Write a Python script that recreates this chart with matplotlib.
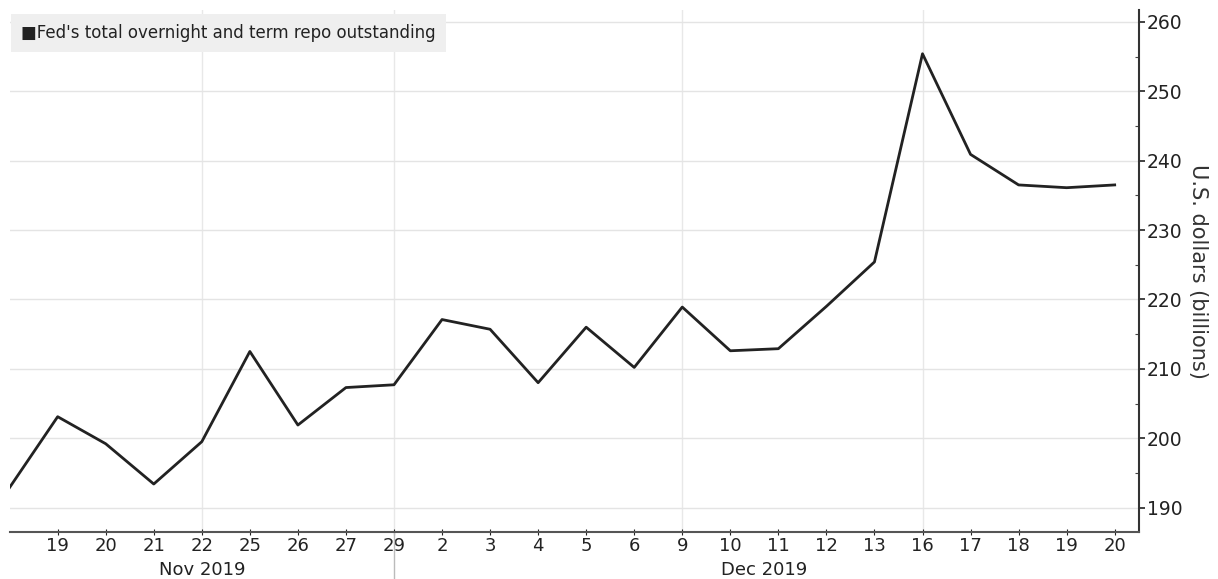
import numpy as np
import matplotlib
matplotlib.use("Agg")
import matplotlib.pyplot as plt
import matplotlib.transforms as mtransforms
from matplotlib.ticker import MultipleLocator

# Fed's total overnight and term repo outstanding, billions USD
days = ["18", "19", "20", "21", "22", "25", "26", "27", "29",
        "2", "3", "4", "5", "6", "9", "10", "11", "12", "13", "16", "17", "18", "19", "20"]
repo = [192.9, 203.1, 199.2, 193.4, 199.5, 212.5, 201.9, 207.3, 207.7,
        217.1, 215.7, 208.0, 216.0, 210.2, 218.9, 212.6, 212.9, 219.0, 225.4,
        255.4, 240.9, 236.5, 236.1, 236.5]
months = ["Nov 2019", "Dec 2019"]
month_pos = [4, 15.7]       # label centre (index)
month_break = 8             # separator index
vgrid = [4, 8, 14, 19]

fig = plt.figure(figsize=(12.18, 5.79), dpi=100)
ax = fig.add_axes([0.0079, 0.081, 0.927, 0.902])

x = np.arange(len(repo))
ax.plot(x, repo, color="#222222", lw=2.0, zorder=3)

ax.set_xlim(0, len(repo) - 0.5)
ax.set_ylim(186.47, 261.73)

ax.yaxis.tick_right()
ax.yaxis.set_label_position("right")
ax.yaxis.set_major_locator(MultipleLocator(10))
ax.yaxis.set_minor_locator(MultipleLocator(5))
ax.tick_params(axis="y", which="major", direction="out", length=4, width=1.2,
               labelsize=13.5, pad=2, colors="#222222")
ax.tick_params(axis="y", which="minor", direction="in", length=3, width=0.8, colors="#444444")
ax.set_ylabel("U.S. dollars (billions)", rotation=270, fontsize=15, color="#333333",
              labelpad=18)

ax.set_xticks(x[1:])
ax.set_xticklabels(days[1:])
ax.tick_params(axis="x", direction="inout", length=5, width=0.8, labelsize=13,
               pad=1, colors="#222222")

for s in ["top", "left"]:
    ax.spines[s].set_visible(False)
ax.spines["bottom"].set_color("#555555")
ax.spines["bottom"].set_linewidth(1.5)
ax.spines["right"].set_color("#333333")
ax.spines["right"].set_linewidth(1.5)

ax.grid(axis="y", which="major", color="#e4e4e4", lw=1.0, zorder=0)
for v in vgrid:
    ax.axvline(v, color="#e8e8e8", lw=1.0, zorder=0)

# month labels and separator below the axis
trans = mtransforms.blended_transform_factory(ax.transData, ax.transAxes)
for m, p in zip(months, month_pos):
    ax.text(p, -0.072, m, transform=trans, ha="center", va="center",
            fontsize=13, color="#222222")
ax.plot([month_break, month_break], [0, -0.11], transform=trans, color="#bbbbbb",
        lw=1.0, clip_on=False)

# legend box
ax.text(0.01, 0.955, "\u25A0Fed's total overnight and term repo outstanding",
        transform=ax.transAxes, ha="left", va="center", fontsize=12, color="#222222",
        zorder=5,
        bbox=dict(boxstyle="square,pad=0.6", facecolor="#efefef", edgecolor="none"))

fig.savefig("out.png", dpi=100)
